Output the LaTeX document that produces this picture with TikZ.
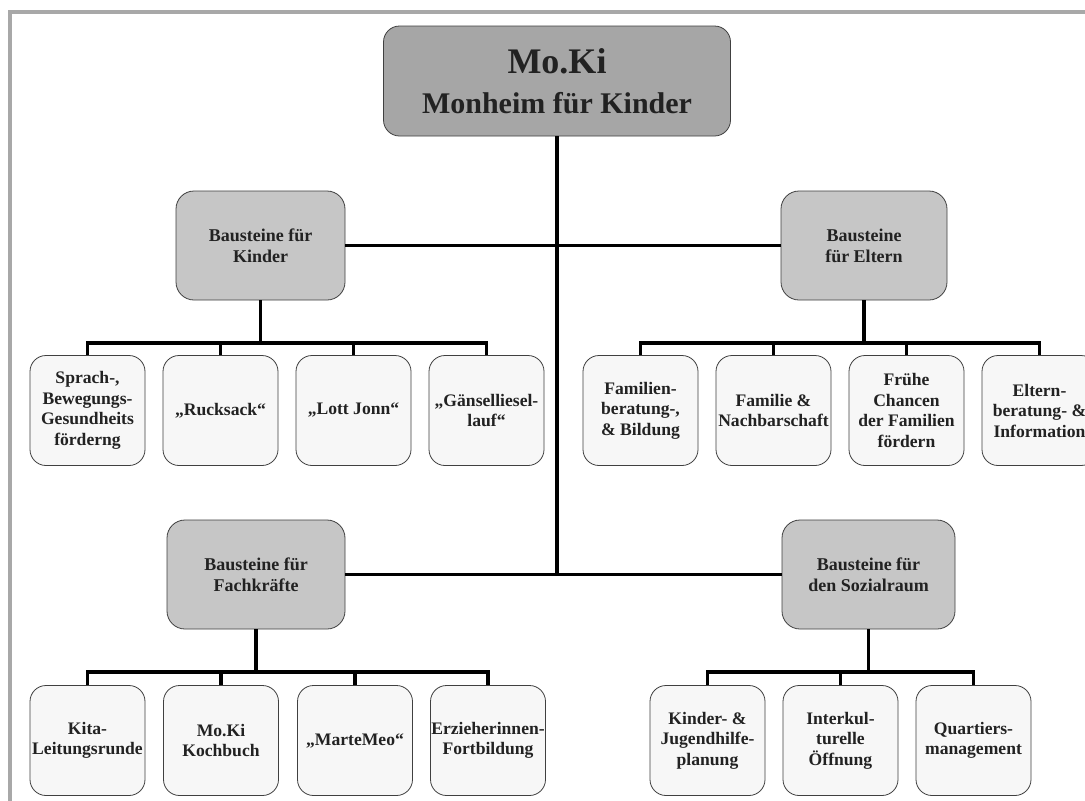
\documentclass[tikz,border=0pt]{standalone}
\usepackage{fontspec}
\setmainfont{Liberation Serif}
\definecolor{topgrey}{HTML}{A6A6A6}
\definecolor{midgrey}{HTML}{C6C6C6}
\definecolor{leafgrey}{HTML}{F7F7F7}
\definecolor{framegrey}{HTML}{A8A8A8}
\definecolor{txt}{HTML}{222222}
\tikzset{
  box/.style={draw=black!75, line width=0.8pt, inner sep=0pt, align=center,
    font=\fontsize{17.6}{20.5}\selectfont\bfseries, text=txt},
  topbox/.style={box, fill=topgrey, minimum width=347pt, minimum height=110pt,
    rounded corners=16pt, font=\fontsize{30}{40}\selectfont\bfseries},
  midbox/.style={box, fill=midgrey, minimum height=109pt, rounded corners=18pt,
    font=\fontsize{18}{21}\selectfont\bfseries},
  leafbox/.style={box, fill=leafgrey, minimum width=115pt, minimum height=110pt,
    rounded corners=16pt},
  conn/.style={line width=3.9pt, black, line join=miter},
}
\begin{document}
\begin{tikzpicture}[x=1pt,y=-1pt]
\clip (0,0) rectangle (1085,801);
\fill[white] (0,0) rectangle (1085,801);
\draw[line width=3.5pt, framegrey] (10,820) -- (10,12) -- (1100,12);

% top
\node[topbox] (top) at (557,81) {{\fontsize{36}{40}\selectfont Mo.Ki}\\Monheim für Kinder};

% second level
\node[midbox, minimum width=169pt] (kinder) at (260.5,245.5) {Bausteine für\\Kinder};
\node[midbox, minimum width=166pt] (eltern) at (864,245.5) {Bausteine\\für Eltern};
\node[midbox, minimum width=178pt] (fach) at (256,574.5) {Bausteine für\\Fachkräfte};
\node[midbox, minimum width=173pt] (sozial) at (868.5,574.5) {Bausteine für\\den Sozialraum};

% leaves of Kinder
\node[leafbox] (k1) at (87.5,410.5) {Sprach-,\\Bewegungs-\\Gesundheits\\förderng};
\node[leafbox] (k2) at (220.5,410.5) {„Rucksack“};
\node[leafbox] (k3) at (353.5,410.5) {„Lott Jonn“};
\node[leafbox] (k4) at (486.5,410.5) {„Gänselliesel-\\lauf“};

% leaves of Eltern
\node[leafbox] (e1) at (640.5,410.5) {Familien-\\beratung-,\\\& Bildung};
\node[leafbox] (e2) at (773.5,410.5) {Familie \&\\Nachbarschaft};
\node[leafbox] (e3) at (906.5,410.5) {Frühe\\Chancen\\der Familien\\fördern};
\node[leafbox] (e4) at (1039.5,410.5) {Eltern-\\beratung- \&\\Information};

% leaves of Fachkraefte
\node[leafbox] (f1) at (87.5,740.5) {Kita-\\Leitungsrunde};
\node[leafbox] (f2) at (221,740.5) {Mo.Ki\\Kochbuch};
\node[leafbox] (f3) at (355,740.5) {„MarteMeo“};
\node[leafbox] (f4) at (488,740.5) {Erzieherinnen-\\Fortbildung};

% leaves of Sozialraum
\node[leafbox] (s1) at (707.5,740.5) {Kinder- \&\\Jugendhilfe-\\planung};
\node[leafbox] (s2) at (840.5,740.5) {Interkul-\\turelle\\Öffnung};
\node[leafbox] (s3) at (973.5,740.5) {Quartiers-\\management};

% connectors
\coordinate (bar1) at (0,343);
\coordinate (bar2) at (0,672);
\draw[conn] (top.south) -- (top.south |- fach.east);
\draw[conn] (kinder.east) -- (eltern.west);
\draw[conn] (fach.east) -- (sozial.west);

\draw[conn] (kinder.south) -- (kinder.south |- bar1);
\draw[conn] (k1.north) -- (k1.north |- bar1) -- (k4.north |- bar1) -- (k4.north);
\foreach \n in {k2,k3} \draw[conn] (\n.north) -- (\n.north |- bar1);

\draw[conn] (eltern.south) -- (eltern.south |- bar1);
\draw[conn] (e1.north) -- (e1.north |- bar1) -- (e4.north |- bar1) -- (e4.north);
\foreach \n in {e2,e3} \draw[conn] (\n.north) -- (\n.north |- bar1);

\draw[conn] (fach.south) -- (fach.south |- bar2);
\draw[conn] (f1.north) -- (f1.north |- bar2) -- (f4.north |- bar2) -- (f4.north);
\foreach \n in {f2,f3} \draw[conn] (\n.north) -- (\n.north |- bar2);

\draw[conn] (sozial.south) -- (sozial.south |- bar2);
\draw[conn] (s1.north) -- (s1.north |- bar2) -- (s3.north |- bar2) -- (s3.north);
\draw[conn] (s2.north) -- (s2.north |- bar2);
\end{tikzpicture}
\end{document}
